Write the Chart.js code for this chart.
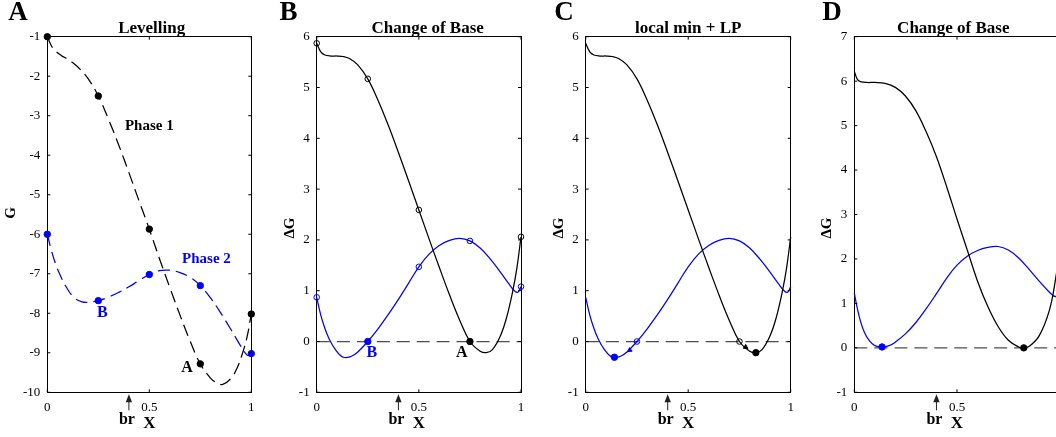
<!DOCTYPE html>
<html>
<head>
<meta charset="utf-8">
<script src="https://cdn.jsdelivr.net/npm/chart.js@4.4.1/dist/chart.umd.min.js"></script>
<style>
  html, body { margin: 0; padding: 0; background: #fff; }
  #wrap { position: relative; width: 1056px; height: 437px; overflow: hidden; background: #fff; }
  #wrap canvas { position: absolute; top: 0; }
</style>
</head>
<body>
<div id="wrap">
  <canvas id="panelA" width="272" height="437" style="left:0px"></canvas>
  <canvas id="panelB" width="272" height="437" style="left:265px"></canvas>
  <canvas id="panelC" width="277" height="437" style="left:530px"></canvas>
  <canvas id="panelD" width="282" height="437" style="left:795px"></canvas>
</div>
<script>
// ---------- Panel A: free energy G(X) of the two phases ----------
const xPhase1 = [0, 0.02, 0.04, 0.07, 0.1, 0.13, 0.16, 0.2, 0.25, 0.3, 0.35, 0.4, 0.45, 0.5, 0.55, 0.6, 0.65, 0.7, 0.75, 0.8, 0.83, 0.86, 0.9, 0.93, 0.96, 0.98, 1];
const gPhase1 = [-1.0, -1.23, -1.36, -1.48, -1.57, -1.68, -1.82, -2.06, -2.5, -3.09, -3.74, -4.44, -5.16, -5.87, -6.62, -7.34, -8.04, -8.7, -9.28, -9.64, -9.76, -9.8, -9.65, -9.39, -8.96, -8.58, -8.02];
const xPhase2 = [0, 0.02, 0.04, 0.06, 0.09, 0.13, 0.17, 0.2, 0.25, 0.3, 0.35, 0.4, 0.45, 0.5, 0.55, 0.6, 0.65, 0.7, 0.75, 0.8, 0.85, 0.9, 0.94, 0.97, 0.985, 1];
const gPhase2 = [-6.0, -6.41, -6.74, -7.0, -7.31, -7.6, -7.71, -7.72, -7.68, -7.59, -7.47, -7.33, -7.17, -7.02, -6.92, -6.91, -6.97, -7.09, -7.3, -7.61, -7.99, -8.41, -8.76, -9.0, -9.07, -9.02];
const xNodesA = [0, 0.25, 0.5, 0.75, 1];
const gNodes1 = [-1.0, -2.5, -5.87, -9.28, -8.02];
const gNodes2 = [-6.0, -7.68, -7.02, -7.3, -9.02];

// ---------- Panels B and C: ΔG after the change of base ----------
const xDG1 = [0, 0.02, 0.04, 0.07, 0.1, 0.13, 0.16, 0.2, 0.25, 0.3, 0.35, 0.4, 0.45, 0.5, 0.55, 0.6, 0.65, 0.7, 0.75, 0.8, 0.83, 0.86, 0.9, 0.93, 0.96, 0.98, 1];
const dG1  = [5.87, 5.7, 5.64, 5.62, 5.62, 5.61, 5.57, 5.45, 5.17, 4.75, 4.26, 3.72, 3.16, 2.59, 2.02, 1.46, 0.92, 0.42, 0.0, -0.19, -0.22, -0.16, 0.12, 0.48, 1.0, 1.45, 2.06];
const xDG2 = [0, 0.02, 0.04, 0.06, 0.09, 0.13, 0.17, 0.2, 0.25, 0.3, 0.35, 0.4, 0.45, 0.5, 0.55, 0.6, 0.65, 0.7, 0.75, 0.8, 0.85, 0.9, 0.94, 0.97, 0.985, 1];
const dG2  = [0.87, 0.52, 0.26, 0.06, -0.15, -0.31, -0.29, -0.21, 0.0, 0.25, 0.53, 0.83, 1.15, 1.47, 1.72, 1.89, 1.99, 2.03, 1.98, 1.84, 1.62, 1.36, 1.14, 0.99, 0.97, 1.08];

// ---------- Panel D: ΔG for the new base ----------
const xDG1d = [0, 0.015, 0.03, 0.06, 0.1, 0.15, 0.2, 0.25, 0.3, 0.35, 0.4, 0.45, 0.5, 0.55, 0.6, 0.65, 0.7, 0.75, 0.8, 0.825, 0.85, 0.9, 0.95, 0.98, 1];
const dG1d  = [6.22, 6.04, 5.99, 5.97, 5.97, 5.95, 5.86, 5.66, 5.33, 4.86, 4.3, 3.62, 2.9, 2.2, 1.5, 0.93, 0.48, 0.17, 0.02, 0.0, 0.03, 0.27, 0.85, 1.55, 2.2];
const xDG2d = [0, 0.015, 0.03, 0.05, 0.075, 0.1, 0.135, 0.17, 0.2, 0.25, 0.3, 0.35, 0.4, 0.45, 0.5, 0.55, 0.6, 0.65, 0.7, 0.75, 0.8, 0.85, 0.9, 0.95, 0.97, 0.985, 1];
const dG2d  = [1.23, 0.88, 0.6, 0.34, 0.15, 0.05, 0.02, 0.05, 0.13, 0.32, 0.57, 0.88, 1.22, 1.57, 1.86, 2.06, 2.19, 2.26, 2.28, 2.2, 2.02, 1.77, 1.5, 1.25, 1.17, 1.15, 1.17];

// Tick values on the X axis and the ratio marked "br"
const xTicks = [0, 0.5, 1];
const brValue = 0.4;

const SERIF = "'Liberation Serif', 'Times New Roman', serif";
const BLUE = '#0000ff';

function pts(xs, ys) { return xs.map((x, i) => ({ x: x, y: ys[i] })); }

function curve(xs, ys, color, dash, order) {
  return {
    data: pts(xs, ys), showLine: true, borderColor: color, borderWidth: 1.25,
    borderDash: dash || [], pointRadius: 0, pointHoverRadius: 0,
    tension: 0.4, clip: false, order: order === undefined ? 1 : order
  };
}

function marks(xs, ys, color, filled, r, style, rot) {
  return {
    data: pts(xs, ys), showLine: false, pointRadius: r || 3, pointHoverRadius: r || 3,
    pointStyle: style || 'circle', rotation: rot || 0,
    pointBackgroundColor: filled ? color : 'rgba(0,0,0,0)',
    pointBorderColor: color, pointBorderWidth: 1, clip: false, order: 0
  };
}

function zeroLine() { return curve([0, 1], [0, 0], '#4d4d4d', [13, 7], 2); }

// MATLAB-like box: four bordered axes, tick marks pointing inward
function boxScales(yMin, yMax, axisW) {
  const border = { display: true, color: '#000', width: 1 };
  const grid = { display: false, drawTicks: false };
  const tickFont = { family: SERIF, size: 13 };
  return {
    x: {
      type: 'linear', position: 'bottom', min: 0, max: 1,
      afterFit(s) { s.height = 44.7; },
      afterBuildTicks(s) { s.ticks = xTicks.map(v => ({ value: v })); },
      grid: grid, border: border,
      ticks: { color: '#000', font: tickFont, padding: 7, maxRotation: 0, autoSkip: false, callback: v => String(v) },
      title: { display: true, text: 'X', color: '#000', font: { family: SERIF, size: 17, weight: 'bold' }, padding: { top: 0, bottom: 3 } }
    },
    x2: {
      type: 'linear', position: 'top', min: 0, max: 1,
      afterFit(s) { s.height = 0; },
      afterBuildTicks(s) { s.ticks = xTicks.map(v => ({ value: v })); },
      grid: grid, border: border, ticks: { display: false }
    },
    y: {
      type: 'linear', position: 'left', min: yMin, max: yMax,
      afterFit(s) { s.width = axisW; },
      grid: grid, border: border,
      ticks: { stepSize: 1, color: '#000', font: tickFont, padding: 7 }
    },
    y2: {
      type: 'linear', position: 'right', min: yMin, max: yMax,
      afterFit(s) { s.width = 0; },
      grid: grid, border: border, ticks: { display: false, stepSize: 1 }
    }
  };
}

const inwardTicks = {
  id: 'inwardTicks',
  afterDraw(chart) {
    const { ctx, chartArea: a, scales } = chart;
    const L = 3;
    ctx.save();
    ctx.strokeStyle = '#000';
    ctx.lineWidth = 1;
    ctx.beginPath();
    scales.x.ticks.forEach(t => {
      const px = scales.x.getPixelForValue(t.value);
      ctx.moveTo(px, a.bottom); ctx.lineTo(px, a.bottom - L);
      ctx.moveTo(px, a.top); ctx.lineTo(px, a.top + L);
    });
    scales.y.ticks.forEach(t => {
      const py = scales.y.getPixelForValue(t.value);
      ctx.moveTo(a.left, py); ctx.lineTo(a.left + L, py);
      ctx.moveTo(a.right, py); ctx.lineTo(a.right - L, py);
    });
    ctx.stroke();
    ctx.restore();
  }
};

const panelText = {
  id: 'panelText',
  afterDraw(chart, args, opts) {
    const { ctx, chartArea: a, scales } = chart;
    ctx.save();
    ctx.textAlign = 'center';
    ctx.textBaseline = 'middle';
    // panel letter
    ctx.fillStyle = '#000';
    ctx.font = 'bold 27px ' + SERIF;
    ctx.fillText(opts.letter, opts.letterX, 13);
    // panel title
    ctx.font = 'bold 17px ' + SERIF;
    ctx.fillText(opts.title, (a.left + a.right) / 2 + (opts.titleShift || 0), 29);
    // vertical axis title
    ctx.save();
    ctx.translate(opts.yTitleX, opts.yTitleY);
    ctx.rotate(-Math.PI / 2);
    ctx.font = 'bold 15px ' + SERIF;
    ctx.fillText(opts.yTitle, 0, 0);
    ctx.restore();
    // labels placed in data coordinates
    (opts.labels || []).forEach(l => {
      ctx.fillStyle = l.color;
      ctx.font = 'bold ' + (l.size || 16) + 'px ' + SERIF;
      ctx.fillText(l.text, scales.x.getPixelForValue(l.x), scales.y.getPixelForValue(l.y));
    });
    // "br" marker under the X axis
    const bx = scales.x.getPixelForValue(opts.br);
    const top = a.bottom + 2;
    ctx.strokeStyle = '#222';
    ctx.fillStyle = '#222';
    ctx.lineWidth = 1;
    ctx.beginPath();
    ctx.moveTo(bx, top + 6); ctx.lineTo(bx, top + 16);
    ctx.stroke();
    ctx.beginPath();
    ctx.moveTo(bx, top); ctx.lineTo(bx - 3.2, top + 8); ctx.lineTo(bx + 3.2, top + 8); ctx.closePath();
    ctx.fill();
    ctx.fillStyle = '#000';
    ctx.font = 'bold 16px ' + SERIF;
    ctx.fillText('br', bx - 2, 420);
    ctx.restore();
  }
};

function makePanel(id, datasets, scales, padRight, text) {
  new Chart(document.getElementById(id), {
    type: 'scatter',
    data: { datasets: datasets },
    options: {
      responsive: false, animation: false, events: [],
      layout: { padding: { left: 0, top: 36.7, right: padRight, bottom: 0 } },
      scales: scales,
      plugins: { legend: { display: false }, tooltip: { enabled: false }, panelText: text }
    },
    plugins: [inwardTicks, panelText]
  });
}

// A — Levelling
makePanel('panelA', [
  marks(xNodesA, gNodes1, '#000', true, 3.2),
  marks(xNodesA, gNodes2, BLUE, true, 3.2),
  curve(xPhase1, gPhase1, '#000', [12, 6]),
  curve(xPhase2, gPhase2, BLUE, [12, 6])
], boxScales(-10, -1, 47.3), 20.7, {
  letter: 'A', letterX: 18, title: 'Levelling', titleShift: 2.4, br: brValue,
  yTitle: 'G', yTitleX: 11, yTitleY: 213,
  labels: [
    { text: 'Phase 1', x: 0.50, y: -3.26, color: '#000', size: 15 },
    { text: 'Phase 2', x: 0.78, y: -6.63, color: BLUE, size: 15 },
    { text: 'B', x: 0.27, y: -8.0, color: BLUE },
    { text: 'A', x: 0.685, y: -9.39, color: '#000' }
  ]
});

// B — Change of Base
makePanel('panelB', [
  marks([0.75], [0.0], '#000', true, 3.2),
  marks([0.25], [0.0], BLUE, true, 3.2),
  marks([0, 0.25, 0.5, 1], [5.87, 5.17, 2.59, 2.06], '#000', false, 2.8),
  marks([0, 0.5, 0.75, 1], [0.87, 1.47, 1.98, 1.08], BLUE, false, 2.8),
  curve(xDG1, dG1, '#000'),
  curve(xDG2, dG2, BLUE),
  zeroLine()
], boxScales(-1, 6, 51.7), 16, {
  letter: 'B', letterX: 23.5, title: 'Change of Base', titleShift: 8.8, br: brValue,
  yTitle: 'ΔG', yTitleX: 25.5, yTitleY: 228,
  labels: [
    { text: 'B', x: 0.27, y: -0.22, color: BLUE },
    { text: 'A', x: 0.71, y: -0.22, color: '#000' }
  ]
});

// C — local min + LP
makePanel('panelC', [
  marks([0.14], [-0.31], BLUE, true, 3.2),
  marks([0.83], [-0.22], '#000', true, 3.2),
  marks([0.25], [0.0], BLUE, false, 2.8),
  marks([0.75], [0.0], '#000', false, 2.8),
  marks([0.215], [-0.17], BLUE, true, 2.6, 'triangle', 234),
  marks([0.78], [-0.11], '#000', true, 2.6, 'triangle', 121),
  curve(xDG1, dG1, '#000'),
  curve(xDG2, dG2, BLUE),
  zeroLine()
], boxScales(-1, 6, 55.7), 16.3, {
  letter: 'C', letterX: 34, title: 'local min + LP', titleShift: 0, br: brValue,
  yTitle: 'ΔG', yTitleX: 29, yTitleY: 228, labels: []
});

// D — Change of Base (second step)
makePanel('panelD', [
  marks([0.135], [0.02], BLUE, true, 3.2),
  marks([0.825], [0.0], '#000', true, 3.2),
  curve(xDG1d, dG1d, '#000'),
  curve(xDG2d, dG2d, BLUE),
  zeroLine()
], boxScales(-1, 7, 59.3), 17.3, {
  letter: 'D', letterX: 37, title: 'Change of Base', titleShift: -3.7, br: brValue,
  yTitle: 'ΔG', yTitleX: 32, yTitleY: 228, labels: []
});
</script>
</body>
</html>
